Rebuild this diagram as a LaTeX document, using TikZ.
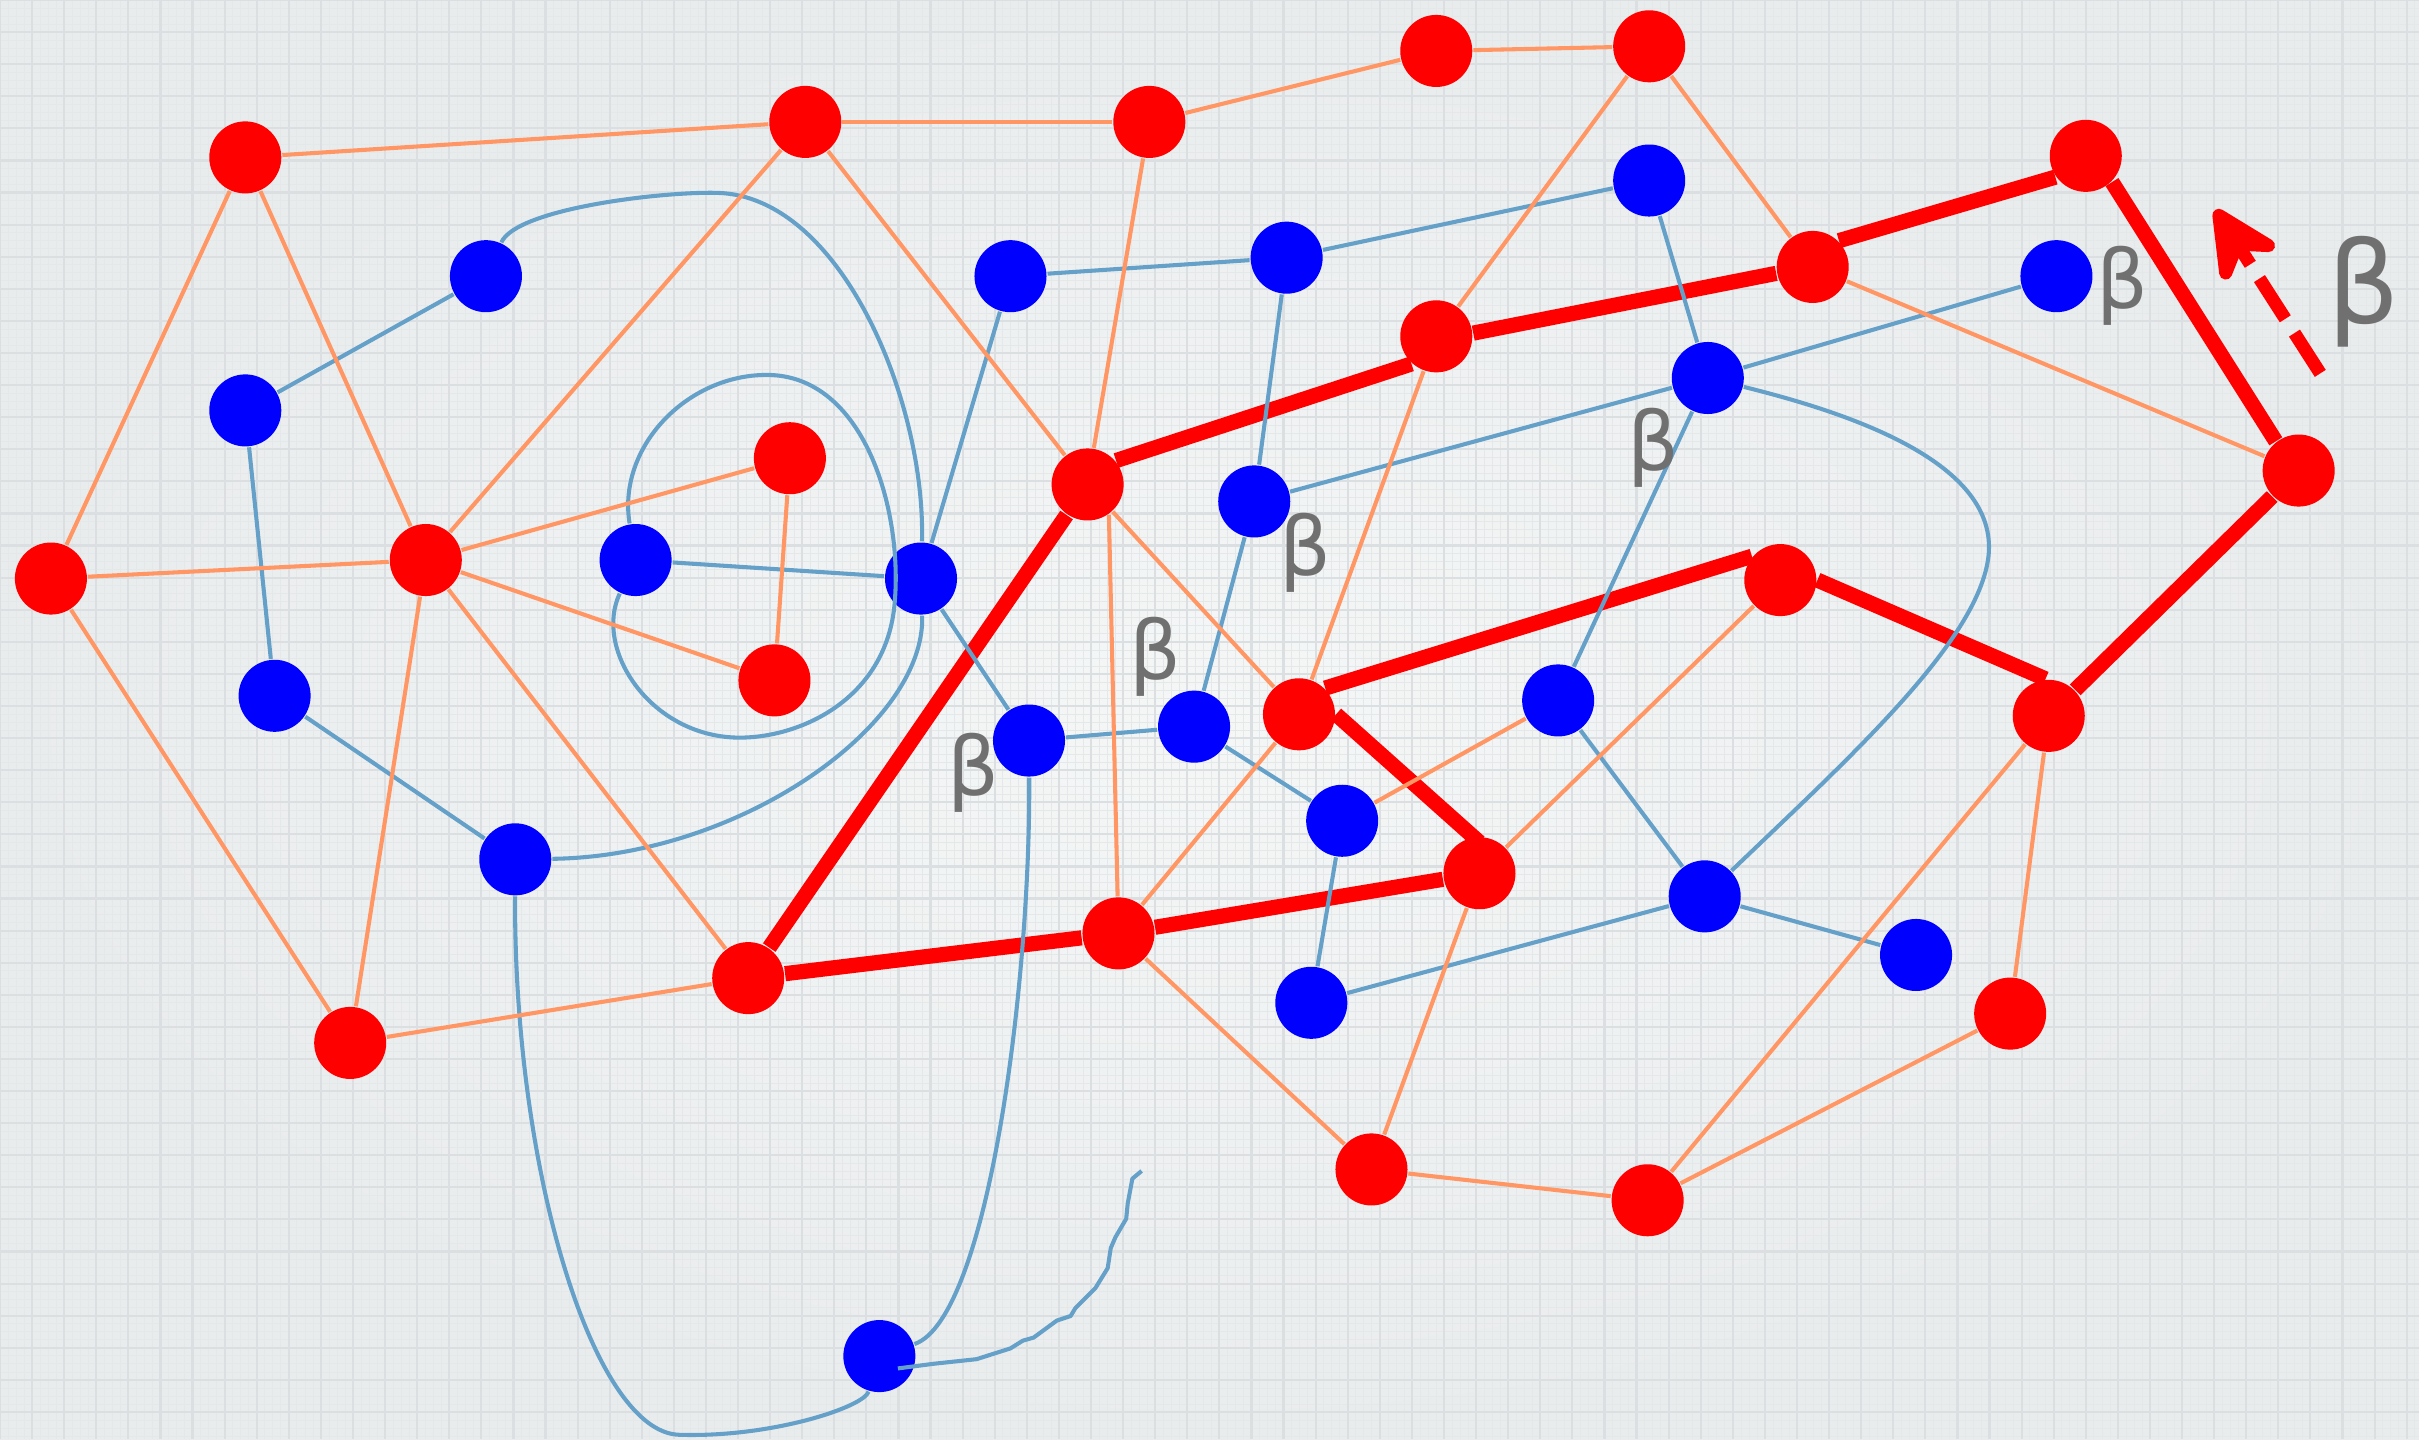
\documentclass[tikz,border=0pt]{standalone}
\usepackage{fontspec}
\newfontfamily\betafont{DejaVu Sans}
\usetikzlibrary{arrows.meta,calc}
\definecolor{bgin}{RGB}{245,247,247}
\definecolor{bgout}{RGB}{233,236,237}
\definecolor{gridminor}{RGB}{229,232,233}
\definecolor{gridmajor}{RGB}{219,223,225}
\definecolor{oline}{RGB}{255,150,100}
\definecolor{bline}{RGB}{100,160,200}
\definecolor{bgray}{RGB}{112,112,112}
\definecolor{rnode}{RGB}{255,0,0}
\definecolor{bnode}{RGB}{0,0,255}
\begin{document}
\begin{tikzpicture}[x=0.1mm,y=-0.1mm,
  rn/.style={circle,fill=rnode,inner sep=0pt,minimum size=4.67mm},
  bn/.style={circle,fill=bnode,inner sep=0pt,minimum size=4.67mm},
  oe/.style={draw=oline,line width=0.75pt},
  be/.style={draw=bline,line width=0.75pt},
  re/.style={draw=rnode,line width=2.8pt},
  lbl/.style={text=bgray,font=\betafont\fontsize{15}{15}\selectfont,inner sep=0pt},
  biglbl/.style={text=bgray,font=\betafont\fontsize{21}{21}\selectfont,inner sep=0pt}]
\useasboundingbox (0,0) rectangle (1568,933);
\shade[inner color=bgin,outer color=bgout] (0,0) rectangle (1568,933);
\foreach \i in {0,...,301} \draw[gridminor,line width=0.12pt] (\i*5.2,0) -- (\i*5.2,933);
\foreach \i in {0,...,180} \draw[gridminor,line width=0.12pt] (0,\i*5.2) -- (1568,\i*5.2);
\foreach \i in {0,...,76} \draw[gridmajor,line width=0.4pt] (\i*20.8,0) -- (\i*20.8,933);
\foreach \i in {0,...,45} \draw[gridmajor,line width=0.4pt] (0,\i*20.8) -- (1568,\i*20.8);

% red nodes
\node[rn] (R1) at (159,102) {};
\node[rn] (R2) at (522,79) {};
\node[rn] (R3) at (745,79) {};
\node[rn] (R4) at (931,33) {};
\node[rn] (R5) at (1069,30) {};
\node[rn] (R6) at (1352,101) {};
\node[rn] (R7) at (1175,173) {};
\node[rn] (R8) at (931,218) {};
\node[rn] (R9) at (705,314) {};
\node[rn] (R10) at (33,375) {};
\node[rn] (R11) at (276,363) {};
\node[rn] (R12) at (512,297) {};
\node[rn] (R13) at (502,441) {};
\node[rn] (R14) at (1490,305) {};
\node[rn] (R15) at (1154,376) {};
\node[rn] (R16) at (842,463) {};
\node[rn] (R17) at (1328,464) {};
\node[rn] (R18) at (959,566) {};
\node[rn] (R19) at (725,605) {};
\node[rn] (R20) at (485,634) {};
\node[rn] (R21) at (227,676) {};
\node[rn] (R22) at (1303,657) {};
\node[rn] (R23) at (889,758) {};
\node[rn] (R24) at (1068,778) {};
% blue nodes
\node[bn] (B1) at (315,179) {};
\node[bn] (B2) at (159,266) {};
\node[bn] (B3) at (178,451) {};
\node[bn] (B4) at (334,557) {};
\node[bn] (B5) at (412,363) {};
\node[bn] (B6) at (597,375) {};
\node[bn] (B7) at (655,179) {};
\node[bn] (B8) at (834,167) {};
\node[bn] (B9) at (1069,117) {};
\node[bn] (B10) at (1333,179) {};
\node[bn] (B11) at (1107,245) {};
\node[bn] (B12) at (813,325) {};
\node[bn] (B13) at (667,480) {};
\node[bn] (B14) at (774,471) {};
\node[bn] (B15) at (870,532) {};
\node[bn] (B16) at (1010,454) {};
\node[bn] (B17) at (1105,581) {};
\node[bn] (B18) at (850,650) {};
\node[bn] (B19) at (1242,619) {};
\node[bn] (B20) at (570,879) {};

% thick red cycle
\draw[re] (R9) -- (R20);
\draw[re] (R20) -- (R19);
\draw[re] (R19) -- (R18);
\draw[re] (R16.0) -- ([yshift=-0.4mm]R18.90);
\draw[re] (R16.45) -- (R15.140);
\draw[re] (R15.0) -- (R17.95);
\draw[re] (R17) -- (R14);
\draw[re] (R14.128) -- (R6.-45);
\draw[re] (R7.45) -- (R6.215);
\draw[re] (R8.5) -- (R7.190);
\draw[re] (R9.40) -- (R8.228);

% blue edges
\draw[be] (B1) -- (B2);
\draw[be] (B2) -- (B3);
\draw[be] (B3) -- (B4);
\draw[be] (B5) -- (B6);
\draw[be] (B6) -- (B7);
\draw[be] (B6) -- (B13);
\draw[be] (B7) -- (B8);
\draw[be] (B8) -- (B9);
\draw[be] (B8) -- (B12);
\draw[be] (B9) -- (B11);
\draw[be] (B10) -- (B11);
\draw[be] (B11) -- (B12);
\draw[be] (B11) -- (B16);
\draw[be] (B12) -- (B14);
\draw[be] (B13) -- (B14);
\draw[be] (B14) -- (B15);
\draw[be] (B15) -- (B18);
\draw[be] (B16) -- (B17);
\draw[be] (B17) -- (B18);
\draw[be] (B17) -- (B19);
\draw[be] (B1) .. controls (335,135) and (430,124) .. (465,125) .. controls (545,127) and (600,260) .. (B6);
\draw[be] (B6) .. controls (600,470) and (480,555) .. (B4);
\draw[be] (B5) .. controls (400,290) and (445,243) .. (497,243) .. controls (560,243) and (585,330) .. (580,390) .. controls (575,455) and (515,480) .. (475,478) .. controls (420,475) and (385,420) .. (B5);
\draw[be] (B4) .. controls (333,760) and (385,928) .. (440,930) .. controls (500,932) and (560,912) .. (B20);
\draw[be] (B20) .. controls (640,855) and (668,640) .. (B13);
\draw[be] (B11) .. controls (1200,268) and (1295,300) .. (1289,360) .. controls (1283,415) and (1200,490) .. (B17);
\coordinate (sqend) at (740,759);
\draw[be,line join=round] ($(B20.center)+(12,8)$) -- (605,884) -- (633,881) -- (655,874) -- (663,869) -- (670,867) -- (685,856) -- (694,853) -- (697,848) -- (710,835) -- (718,822) -- (720,809) -- (723,802) -- (730,790) -- (731,780) -- (734,764) -- (sqend);

% orange edges
\draw[oe] (R1) -- (R2);
\draw[oe] (R2) -- (R3);
\draw[oe] (R3) -- (R4);
\draw[oe] (R4) -- (R5);
\draw[oe] (R1) -- (R10);
\draw[oe] (R1) -- (R11);
\draw[oe] (R10) -- (R11);
\draw[oe] (R10) -- (R21);
\draw[oe] (R11) -- (R2);
\draw[oe] (R11) -- (R12);
\draw[oe] (R11) -- (R13);
\draw[oe] (R11) -- (R20);
\draw[oe] (R11) -- (R21);
\draw[oe] (R12) -- (R13);
\draw[oe] (R2) -- (R9);
\draw[oe] (R9) -- (R16);
\draw[oe] (R3) -- (R9);
\draw[oe] (R9.-55) -- (R19);
\draw[oe] (R5) -- (R7);
\draw[oe] (R5) -- (R8);
\draw[oe] (R8) -- (R16);
\draw[oe] (R7) -- (R14);
\draw[oe] (R16) -- (R19);
\draw[oe] (R15) -- (R18);
\draw[oe] (R19) -- (R23);
\draw[oe] (R18) -- (R23);
\draw[oe] (R23) -- (R24);
\draw[oe] (R24) -- (R17);
\draw[oe] (R24) -- (R22);
\draw[oe] (R22) -- (R17);
\draw[oe] (R20) -- (R21);
\draw[oe] (B15) -- (B16);

% dashed arrow
\coordinate (arrtail) at (1504,242);
\coordinate (arrtip) at (1436,136);
\draw[rnode,line width=2.4pt,dash pattern=on 3.1mm off 1.1mm,-{Stealth[length=5.6mm,width=5.4mm,inset=1.9mm,round]}] (arrtail) -- (arrtip);

% labels
\node[lbl] (L1) at (1376,185) {β};
\node[lbl] (L2) at (1072,290) {β};
\node[lbl] (L3) at (846,358) {β};
\node[lbl] (L4) at (749,426) {β};
\node[lbl] (L5) at (631,501) {β};
\node[biglbl] (L6) at (1532,189) {β};
\end{tikzpicture}
\end{document}
